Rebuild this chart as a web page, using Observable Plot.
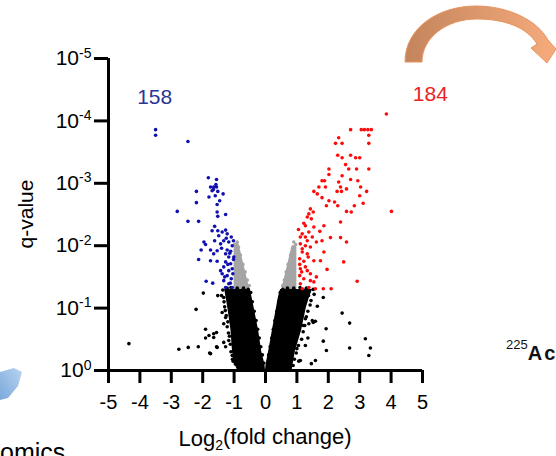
<!DOCTYPE html>
<html><head><meta charset="utf-8">
<script src="https://cdn.jsdelivr.net/npm/d3@7"></script>
<script src="https://cdn.jsdelivr.net/npm/@observablehq/plot@0.6"></script>
<style>
body{margin:0;background:#fff;}
#wrap{position:relative;width:556px;height:456px;overflow:hidden;font-family:"Liberation Sans",Arial,sans-serif;}
#deco{position:absolute;left:0;top:0;pointer-events:none;}
</style></head><body><div id="wrap"></div>
<script>
// ---- data (x = log2 fold change, y = -log10 q-value) ----
const xTicks = [-5,-4,-3,-2,-1,0,1,2,3,4,5];
const yTicks = [0,1,2,3,4,5]; // exponents: 10^0 ... 10^-5

const blueX = [-3.50,-3.50,-2.47,-1.82,-1.56,-1.65,-1.56,-1.70,-1.52,-2.20,-1.80,-1.35,-1.60,-2.20,-1.54,-2.81,-1.54,-1.27,-1.52,-2.47,-2.13,-1.62,-1.52,-1.38,-1.27,-1.22,-1.09,-1.02,-1.49,-1.33,-1.17,-1.06,-1.96,-1.91,-2.05,-1.75,-1.54,-1.65,-1.22,-1.11,-1.27,-2.13,-1.75,-1.54,-1.27,-1.11,-1.33,-1.17,-1.06,-1.38,-1.22,-1.09,-1.33,-1.17,-1.06,-1.89,-1.68,-1.27,-1.43,-1.01,-1.02,-1.43,-1.62,-1.70,-1.17,-1.04,-1.75,-1.46,-1.58,-1.66,-1.12,-1.20,-1.30,-1.40,-1.14,-1.25];
const blueY = [3.86,3.77,3.67,3.09,3.06,2.94,2.94,2.88,2.87,2.87,2.78,2.83,2.80,2.69,2.66,2.55,2.54,2.50,2.47,2.39,2.39,2.31,2.24,2.22,2.25,2.19,2.14,2.08,2.16,2.08,2.06,2.00,2.06,2.02,1.93,1.93,1.92,1.87,1.93,1.91,1.87,1.78,1.76,1.75,1.74,1.71,1.66,1.60,1.63,1.55,1.52,1.47,1.44,1.39,1.33,1.43,1.40,1.33,1.60,1.82,1.78,2.03,2.08,2.24,1.82,1.55,2.94,2.72,2.98,2.90,1.40,1.70,1.50,1.96,1.88,2.12];

const redX = [3.85,2.71,3.05,3.15,3.26,3.37,3.29,3.29,2.33,2.23,2.44,2.30,2.44,2.71,2.87,3.00,2.55,2.65,2.90,3.29,2.02,2.02,2.44,1.80,1.88,2.33,2.71,2.94,1.70,1.91,2.39,3.03,1.54,1.65,2.28,2.42,2.58,3.22,3.00,1.80,2.02,2.20,1.94,2.30,2.83,2.58,2.73,3.11,4.01,1.43,1.52,1.38,1.33,1.46,1.22,1.27,1.54,1.86,2.39,1.73,1.38,1.17,1.11,1.27,1.49,2.07,2.39,2.58,1.62,1.80,1.11,1.27,1.43,1.86,1.17,1.33,1.09,1.22,1.54,1.75,2.49,1.11,1.33,1.96,1.09,1.22,1.43,1.54,1.11,1.38,1.59,1.84,2.09,2.92,1.17,1.33,1.09,1.27,1.43,1.17,1.05,1.15,1.62,1.36];
const redY = [4.11,3.86,3.86,3.86,3.86,3.86,3.77,3.64,3.73,3.64,3.64,3.45,3.41,3.45,3.41,3.41,3.30,3.23,3.23,3.23,3.23,3.14,3.12,3.04,3.04,3.02,3.06,3.04,2.94,2.94,2.94,2.94,2.87,2.83,2.87,2.87,2.91,2.87,2.80,2.77,2.72,2.70,2.64,2.64,2.64,2.55,2.54,2.68,2.55,2.59,2.54,2.51,2.46,2.43,2.36,2.32,2.30,2.32,2.38,2.23,2.22,2.19,2.14,2.14,2.14,2.13,2.13,2.06,2.06,2.08,2.03,2.00,1.98,1.90,1.90,1.87,1.79,1.75,1.76,1.76,1.74,1.63,1.60,1.62,1.52,1.47,1.44,1.42,1.39,1.33,1.31,1.31,1.31,1.43,1.95,2.08,1.70,1.66,1.55,1.31,2.26,1.58,1.50,1.82];

const blackX = [-4.35,-2.76,-2.46,-2.14,-1.78,-1.91,-1.91,-2.21,-1.98,-1.52,-1.80,-1.65,-1.56,-1.75,-1.33,-1.27,-1.38,-1.33,-1.54,-1.33,-1.27,-1.22,-1.17,-1.01,-1.06,-1.65,-1.56,-1.03,
  1.84,1.65,2.44,2.68,1.17,1.27,1.38,1.52,1.59,1.20,1.93,1.35,1.84,1.27,1.94,2.68,3.18,3.34,3.29,1.59,1.46,1.11,1.17,1.37,1.49,1.06,1.00,
  -1.36,-1.40,-1.32,-1.30,-1.28,-1.25,-1.20,-1.18,-1.15,-1.12,-1.10,-1.05,-0.95,-0.88,-1.22,-1.10,-0.90,-0.70,-0.55,
  -0.47,-0.42,-0.36,-0.30,-0.25,-0.20,-0.15,-0.10,-0.06,
  1.52,1.55,1.45,1.42,1.35,1.30,1.25,1.20,1.15,1.05,0.98,0.92,0.88,1.30,1.10,0.90,0.70,0.55,
  0.47,0.42,0.36,0.30,0.25,0.20,0.15,0.10,0.06];
const blackY = [0.43,0.34,0.37,0.38,0.28,0.52,0.66,0.98,1.24,1.20,0.56,0.59,0.61,0.27,0.45,0.38,0.93,0.75,0.37,1.17,0.85,0.70,0.48,0.16,0.24,0.53,0.38,0.15,
  1.17,1.03,0.92,0.76,0.91,0.83,0.75,0.77,0.79,0.72,0.67,0.52,0.47,0.40,0.32,0.36,0.51,0.36,0.24,0.16,0.11,0.16,1.23,1.20,0.80,0.15,0.35,
  1.29,1.20,1.10,1.02,0.96,0.88,0.78,0.60,0.55,0.42,0.30,0.18,0.10,0.05,1.32,1.33,1.32,1.32,1.30,
  1.25,1.10,0.95,0.80,0.66,0.52,0.38,0.25,0.12,
  1.30,1.22,1.12,1.05,0.95,0.86,0.72,0.62,0.50,0.40,0.28,0.18,0.08,1.32,1.33,1.32,1.32,1.30,
  1.25,1.10,0.95,0.80,0.66,0.52,0.38,0.25,0.12];

const grayX = [-0.98,-0.90,-0.86,-0.80,-0.72,-0.65,-0.58,-0.52,0.90,0.96,0.86,0.80,0.72,0.66,0.60,0.55];
const grayY = [2.02,2.06,1.98,1.85,1.70,1.58,1.45,1.36,2.06,2.02,1.96,1.85,1.70,1.58,1.45,1.36];

// dense (non-significant) cloud outline
const leftArmY  = [0, 0.1, 0.3, 0.64, 1.0, 1.15, 1.3];
const leftArmX1 = [-0.85,-1.0,-1.05,-1.1,-1.2,-1.25,-1.3];
const leftArmX2 = [0.0,-0.02,-0.12,-0.22,-0.36,-0.42,-0.48];
const rightArmY  = [0, 0.1, 0.3, 0.64, 1.0, 1.17, 1.3];
const rightArmX1 = [0.0,0.02,0.1,0.22,0.35,0.41,0.48];
const rightArmX2 = [0.85,0.88,0.95,1.15,1.3,1.4,1.5];
const grayLeftY  = [1.3, 2.04];
const grayLeftX1 = [-1.0,-1.0];
const grayLeftX2 = [-0.5,-0.85];
const grayRightY  = [1.3, 2.0];
const grayRightX1 = [0.52, 0.85];
const grayRightX2 = [1.0, 1.0];

const countLabels = ["158","184"];
const countX = [-3.53, 5.25];
const countY = [4.38, 4.43];
const countColors = ["#2b3592","#e82323"];

// ---- tables ----
const pts = (xs, ys) => xs.map((x,i)=>({x, y: ys[i]}));
const band = (ys, x1s, x2s) => ys.map((y,i)=>({y, x1: x1s[i], x2: x2s[i]}));
const counts = countLabels.map((t,i)=>({text:t, x:countX[i], y:countY[i], c:countColors[i]}));

const plot = Plot.plot({
  width: 556, height: 456,
  marginLeft: 108, marginRight: 134, marginTop: 58, marginBottom: 86,
  style: {fontFamily: "Liberation Sans, Arial, sans-serif", fontSize: "20px", background: "transparent", color: "#000"},
  x: {domain: [-5, 5]},
  y: {domain: [0, 5]},
  marks: [
    Plot.areaX(band(grayLeftY, grayLeftX1, grayLeftX2), {y: "y", x1: "x1", x2: "x2", fill: "#a5a5a5"}),
    Plot.areaX(band(grayRightY, grayRightX1, grayRightX2), {y: "y", x1: "x1", x2: "x2", fill: "#a5a5a5"}),
    Plot.dot(pts(grayX, grayY), {x: "x", y: "y", r: 1.8, fill: "#a5a5a5"}),
    Plot.areaX(band(leftArmY, leftArmX1, leftArmX2), {y: "y", x1: "x1", x2: "x2", fill: "#000"}),
    Plot.areaX(band(rightArmY, rightArmX1, rightArmX2), {y: "y", x1: "x1", x2: "x2", fill: "#000"}),
    Plot.dot(pts(blackX, blackY), {x: "x", y: "y", r: 1.8, fill: "#000"}),
    Plot.dot(pts(blueX, blueY), {x: "x", y: "y", r: 1.8, fill: "#1010b0"}),
    Plot.dot(pts(redX, redY), {x: "x", y: "y", r: 1.8, fill: "#ff0a0a"}),
    Plot.ruleX([-5], {y1: 0, y2: 5, stroke: "#000", strokeWidth: 3}),
    Plot.ruleY([0], {x1: -5, x2: 5, stroke: "#000", strokeWidth: 3}),
    Plot.axisX({ticks: xTicks, tickSize: 13, tickPadding: 11, strokeWidth: 3, fontSize: 20, label: null, tickFormat: d => String(d)}),
    Plot.axisY({ticks: yTicks, tickSize: 14, tickPadding: 3, strokeWidth: 3, fontSize: 21, label: null, tickFormat: d => "10^" + (-d)}),
    Plot.text(counts, {x: "x", y: "y", text: "text", fill: "c", fontSize: 21})
  ]
});

const svg = d3.select(plot);
// superscript exponents on y ticks
svg.selectAll('g[aria-label="y-axis tick label"] text').each(function(){
  const exp = this.textContent.split("^")[1];
  const s = d3.select(this);
  s.text("10");
  s.append("tspan").attr("dy", "-0.55em").attr("font-size", "14px").text(exp);
});

const xs = plot.scale("x"), ys = plot.scale("y");
const cx = (xs.apply(-5) + xs.apply(5)) / 2;
const xl = svg.append("text").attr("x", cx).attr("y", ys.apply(0) + 76)
  .attr("text-anchor", "middle").attr("font-size", "22px").attr("fill", "#000");
xl.append("tspan").text("Log");
xl.append("tspan").attr("font-size", "14px").attr("dy", "0.3em").text("2");
xl.append("tspan").attr("dy", "-0.3em").text("(fold change)");

const cy = (ys.apply(0) + ys.apply(5)) / 2;
svg.append("text").attr("transform", `translate(33,${cy}) rotate(-90)`)
  .attr("text-anchor", "middle").attr("font-size", "21px").attr("fill", "#000").text("q-value");

document.getElementById("wrap").appendChild(plot);

// surrounding figure fragments (decoration, not data)
const deco = d3.select("#wrap").append("svg").attr("id", "deco").attr("width", 556).attr("height", 456);
const defs = deco.append("defs");
const g1 = defs.append("linearGradient").attr("id", "og").attr("x1", "0").attr("x2", "1").attr("y1", "0").attr("y2", "0");
g1.append("stop").attr("offset", "0").attr("stop-color", "#c4845c");
g1.append("stop").attr("offset", "1").attr("stop-color", "#f6ab7c");
const g2 = defs.append("linearGradient").attr("id", "bg").attr("x1", "0").attr("x2", "1").attr("y1", "1").attr("y2", "0");
g2.append("stop").attr("offset", "0").attr("stop-color", "#7aa8dc");
g2.append("stop").attr("offset", "1").attr("stop-color", "#b9d4f0");
deco.append("path")
  .attr("d", "M405,62 C405,28 438,6 476,6 C508,6 537,20 548,40 L556,49 L547,63 L531,48 L537,44 C527,27 504,19 477,19 C446,19 422,38 422,62 Z")
  .attr("fill", "url(#og)").attr("stroke", "#e8955f").attr("stroke-width", 1);
deco.append("path")
  .attr("d", "M0,372 L14,368 L22,372 L18,386 L8,398 L0,400 Z")
  .attr("fill", "url(#bg)");
const ac = deco.append("text").attr("x", 506).attr("y", 360).attr("font-family", "Liberation Sans, Arial, sans-serif").attr("fill", "#111");
ac.append("tspan").attr("font-size", "13px").attr("dy", "-11").text("225");
ac.append("tspan").attr("font-size", "20px").attr("font-weight", "bold").attr("letter-spacing", "2px").attr("dy", "11").text("Ac");
deco.append("text").attr("x", 0).attr("y", 461).attr("font-family", "Liberation Sans, Arial, sans-serif")
  .attr("font-size", "25px").attr("fill", "#000").text("omics");
</script>
</body></html>
